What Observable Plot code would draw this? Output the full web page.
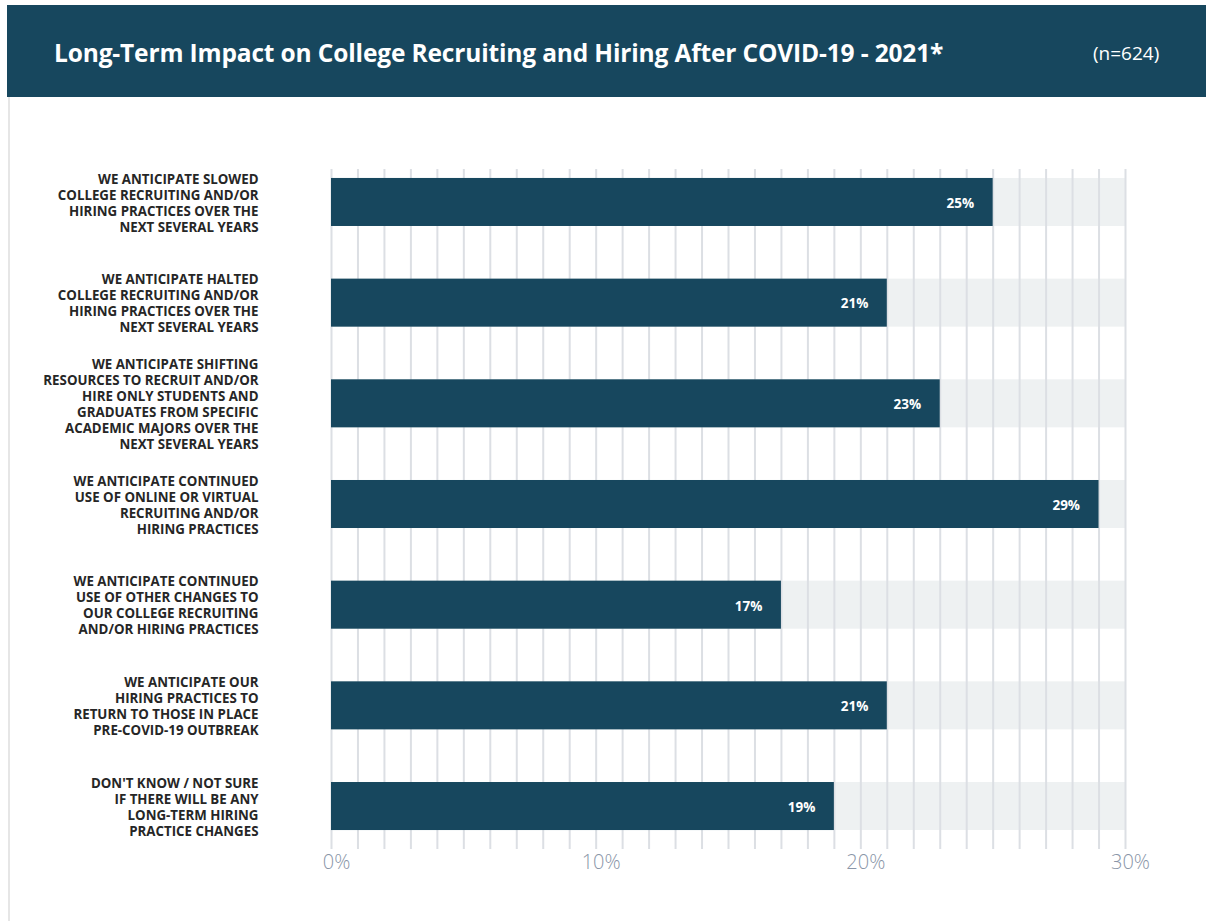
<!DOCTYPE html>
<html>
<head>
<meta charset="utf-8">
<script src="https://cdn.jsdelivr.net/npm/d3@7"></script>
<script src="https://cdn.jsdelivr.net/npm/@observablehq/plot@0.6"></script>
<style>
  html, body { margin: 0; padding: 0; background: #fff; }
  body { width: 1206px; height: 921px; position: relative; overflow: hidden; font-family: "Open Sans", sans-serif; }
  #header { position: absolute; left: 7px; top: 5px; width: 1199px; height: 92px; background: #17475e; color: #fff; }
  #title { position: absolute; left: 47px; top: 31px; font-size: 24.5px; font-weight: 700; letter-spacing: -0.15px; white-space: nowrap; }
  #n { position: absolute; left: 1086px; top: 35px; font-size: 19px; font-weight: 400; }
  #border { position: absolute; left: 8px; top: 97px; width: 2px; height: 824px; background: #e6e6e6; }
  #chart { position: absolute; left: 0; top: 97px; }
</style>
</head>
<body>
<div id="header"><div id="title">Long-Term Impact on College Recruiting and Hiring After COVID-19 - 2021*</div><div id="n">(n=624)</div></div>
<div id="border"></div>
<div id="chart"></div>
<script>
const categories = [
  "WE ANTICIPATE SLOWED\nCOLLEGE RECRUITING AND/OR\nHIRING PRACTICES OVER THE\nNEXT SEVERAL YEARS",
  "WE ANTICIPATE HALTED\nCOLLEGE RECRUITING AND/OR\nHIRING PRACTICES OVER THE\nNEXT SEVERAL YEARS",
  "WE ANTICIPATE SHIFTING\nRESOURCES TO RECRUIT AND/OR\nHIRE ONLY STUDENTS AND\nGRADUATES FROM SPECIFIC\nACADEMIC MAJORS OVER THE\nNEXT SEVERAL YEARS",
  "WE ANTICIPATE CONTINUED\nUSE OF ONLINE OR VIRTUAL\nRECRUITING AND/OR\nHIRING PRACTICES",
  "WE ANTICIPATE CONTINUED\nUSE OF OTHER CHANGES TO\nOUR COLLEGE RECRUITING\nAND/OR HIRING PRACTICES",
  "WE ANTICIPATE OUR\nHIRING PRACTICES TO\nRETURN TO THOSE IN PLACE\nPRE-COVID-19 OUTBREAK",
  "DON'T KNOW / NOT SURE\nIF THERE WILL BE ANY\nLONG-TERM HIRING\nPRACTICE CHANGES"
];
const values = [25, 21, 23, 29, 17, 21, 19];
const xMax = 30;
const tickValues = [0, 10, 20, 30];
const gridValues = d3.range(0, 31, 1);

const data = categories.map((c, i) => ({category: c, value: values[i]}));

const plot = Plot.plot({
  width: 1206,
  height: 824,
  marginLeft: 331,
  marginRight: 81,
  marginTop: 72,
  marginBottom: 82,
  style: {fontFamily: "'Open Sans', sans-serif", background: "transparent"},
  x: {domain: [0, xMax], axis: null, label: null},
  y: {domain: categories, axis: null, paddingInner: 0.523, paddingOuter: 0.089, round: false},
  marks: [
    Plot.barX(data, {y: "category", x1: 0, x2: xMax, fill: "#eef1f2"}),
    Plot.ruleX(gridValues, {x: d => d, stroke: "#dcdfe4", strokeWidth: 2, insetBottom: -10}),
    Plot.barX(data, {y: "category", x1: 0, x2: "value", fill: "#17475e"}),
    Plot.text(data, {y: "category", x: "value", text: d => d.value + "%", textAnchor: "end", dx: -19, dy: 1, fill: "#ffffff", fontSize: 13.5, fontWeight: 700}),
    Plot.text(data, {y: "category", x: 0, text: "category", textAnchor: "end", dx: -73, fill: "#262626", fontSize: 13.3, fontWeight: 700, lineHeight: 1.2}),
    Plot.axisX(tickValues, {tickSize: 0, tickPadding: 15, label: null, tickFormat: d => d + "%", fontSize: 20, fontWeight: 300, color: "#8a96a8", dx: 5})
  ]
});
document.getElementById("chart").appendChild(plot);
</script>
</body>
</html>
